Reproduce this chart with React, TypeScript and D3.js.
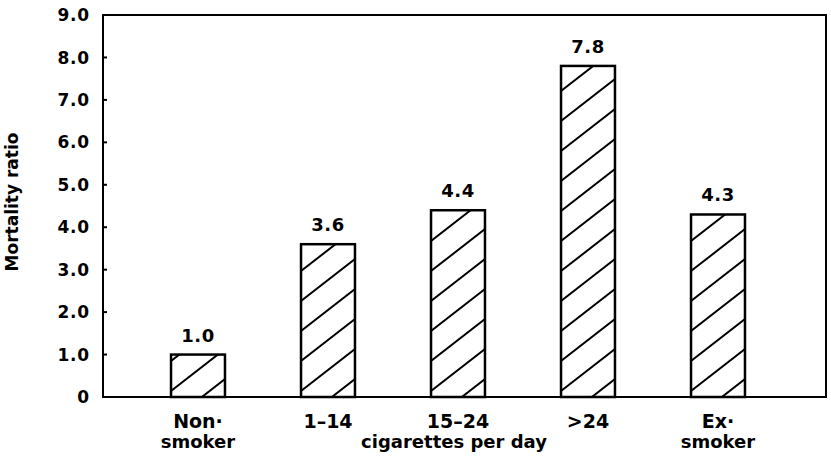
import React from "react";
import * as d3 from "d3";

const categories = ["Non-smoker", "1-14", "15-24", ">24", "Ex-smoker"];
const labelLine1 = ["Non·", "1–14", "15–24", ">24", "Ex·"];
const labelLine2 = ["smoker", "", "", "", "smoker"];
const values = [1.0, 3.6, 4.4, 7.8, 4.3];
const valueLabels = ["1.0", "3.6", "4.4", "7.8", "4.3"];
const yTicks = [0, 1, 2, 3, 4, 5, 6, 7, 8, 9];
const yTickLabels = ["0", "1.0", "2.0", "3.0", "4.0", "5.0", "6.0", "7.0", "8.0", "9.0"];
const groupLabel = "cigarettes per day";
const yTitle = "Mortality ratio";

const W = 831;
const H = 457;
const left = 103;
const right = 826;
const top = 15;
const bottom = 397;
const FONT = "'DejaVu Sans', sans-serif";

export default function App() {
  const y = d3.scaleLinear().domain([0, 9]).range([bottom, top]);
  const x = d3
    .scaleBand<string>()
    .domain(categories)
    .range([133, 783])
    .paddingInner(0.585)
    .paddingOuter(0.2925);
  const bw = x.bandwidth();
  const slope = 0.78;
  const spacing = 30;

  return (
    <svg
      width={W}
      height={H}
      style={{ position: "absolute", left: 0, top: 0, background: "#fff" }}
      fontFamily={FONT}
      fontWeight="bold"
    >
      <defs>
        {categories.map((c, i) => (
          <clipPath id={`clip${i}`} key={c}>
            <rect x={x(c)!} y={y(values[i])} width={bw} height={bottom - y(values[i])} />
          </clipPath>
        ))}
      </defs>
      <rect x={0} y={0} width={W} height={H} fill="#fff" />

      {/* bars with hatching */}
      {categories.map((c, i) => {
        const x0 = x(c)!;
        const x1 = x0 + bw;
        const yt = y(values[i]);
        const rise = slope * bw;
        const lines = [];
        for (let k = -1; ; k++) {
          const yr = bottom - 18 - k * spacing;
          const yl = yr + rise;
          if (yl < yt - 2) break;
          lines.push(
            <line key={k} x1={x0} y1={yl} x2={x1} y2={yr} stroke="#000" strokeWidth={2} />
          );
        }
        return (
          <g key={c}>
            <g clipPath={`url(#clip${i})`}>{lines}</g>
            <rect
              x={x0}
              y={yt}
              width={bw}
              height={bottom - yt}
              fill="none"
              stroke="#000"
              strokeWidth={2.5}
            />
            <text x={x0 + bw / 2} y={yt - 13} textAnchor="middle" fontSize={18} letterSpacing={0.5}>
              {valueLabels[i]}
            </text>
          </g>
        );
      })}

      {/* frame */}
      <path
        d={`M${left},${bottom}V${top}H${right}V${bottom}Z`}
        fill="none"
        stroke="#000"
        strokeWidth={2}
      />

      {/* y ticks */}
      {yTicks.map((t, i) => (
        <g key={t}>
          {t > 0 && t < 9 && (
            <line x1={left} x2={left + 4} y1={y(t)} y2={y(t)} stroke="#000" strokeWidth={2} />
          )}
          <text x={90} y={y(t)} dy="0.36em" textAnchor="end" fontSize={17} letterSpacing={0.8}>
            {yTickLabels[i]}
          </text>
        </g>
      ))}

      {/* x labels */}
      {categories.map((c, i) => (
        <g key={c}>
          <text x={x(c)! + bw / 2} y={428} textAnchor="middle" fontSize={19}>
            {labelLine1[i]}
          </text>
          {labelLine2[i] && (
            <text x={x(c)! + bw / 2} y={448} textAnchor="middle" fontSize={18}>
              {labelLine2[i]}
            </text>
          )}
        </g>
      ))}
      <text x={x(categories[2])! + bw / 2 - 4} y={448} textAnchor="middle" fontSize={18}>
        {groupLabel}
      </text>

      <text transform="translate(18,202) rotate(-90)" textAnchor="middle" fontSize={17}>
        {yTitle}
      </text>
    </svg>
  );
}
